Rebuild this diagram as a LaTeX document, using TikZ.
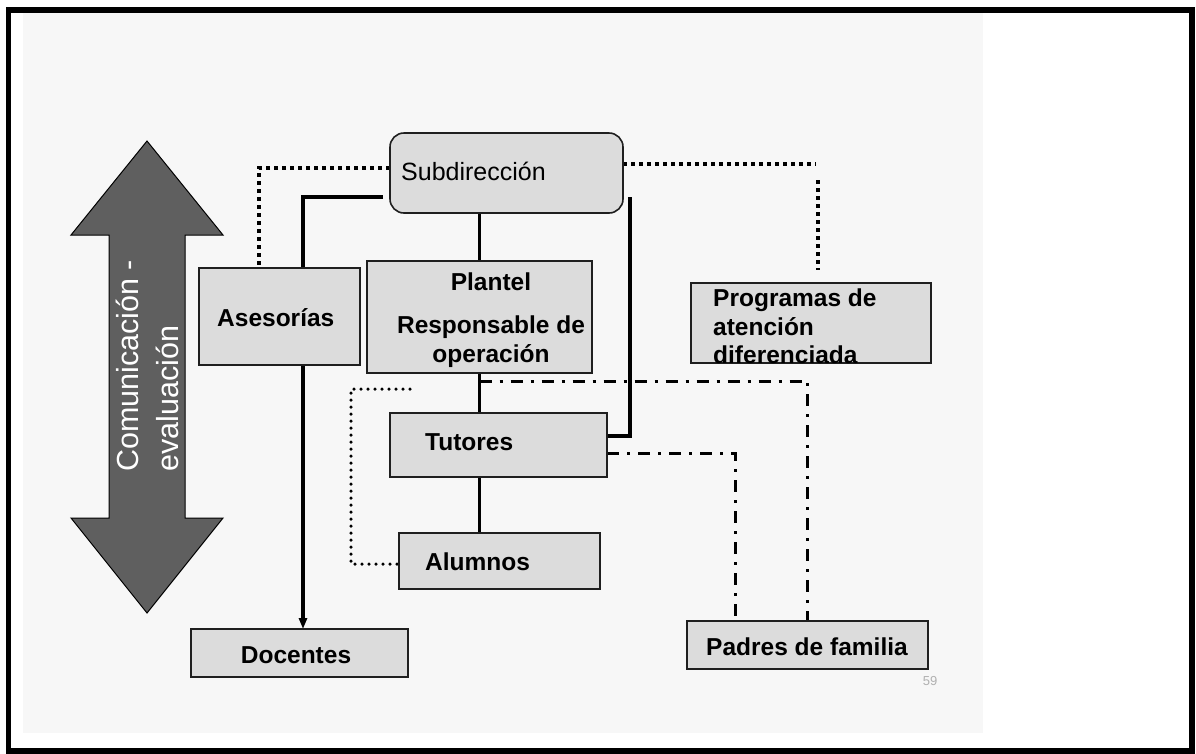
\documentclass[tikz,border=0pt]{standalone}
\usepackage{fontspec}
\setmainfont{Liberation Sans}
\usetikzlibrary{calc,arrows.meta}
\pgfdeclarelayer{bg}
\pgfdeclarelayer{lines}
\pgfsetlayers{bg,lines,main}
\definecolor{boxgray}{RGB}{220,220,220}
\definecolor{pagebg}{RGB}{247,247,247}
\definecolor{arrowgray}{RGB}{95,95,95}
\definecolor{numgray}{RGB}{176,176,176}
\tikzset{
  box/.style={draw=black!88, line width=1.6pt, fill=boxgray, inner sep=0pt, outer sep=0pt},
  boldtxt/.style={inner sep=0pt, font=\fontsize{24.5}{29}\selectfont\bfseries},
  regtxt/.style={inner sep=0pt, font=\fontsize{25}{29}\selectfont},
  arrtxt/.style={rotate=90, anchor=base west, text=white, inner sep=0pt, font=\fontsize{30.5}{36}\selectfont},
  solidln/.style={line width=3.2pt},
  thickln/.style={line width=3.8pt},
  dotsq/.style={line width=4pt, dash pattern=on 4pt off 4pt},
  dotrd/.style={line width=3.5pt, line cap=round, dash pattern=on 0pt off 7pt},
  dashdot/.style={line width=3pt, dash pattern=on 12pt off 8pt on 3pt off 8pt},
}
\begin{document}
\begin{tikzpicture}[x=1pt,y=-1pt]
\useasboundingbox (0,0) rectangle (1196,753);
\begin{pgfonlayer}{bg}
  \fill[white] (0,0) rectangle (1196,753);
  \fill[pagebg] (23,13) rectangle (983,733);
  \draw[line width=5.5pt] (8.5,10) rectangle (1192,751);
  % double arrow
  \draw[fill=arrowgray, line width=1pt]
    (147,141) -- (223,235) -- (185,235) -- (185,518) -- (223,518) -- (147,613)
    -- (71,518) -- (109,518) -- (109,235) -- (71,235) -- cycle;
\end{pgfonlayer}
\node[arrtxt] (arrT1) at (138,472) {Comunicación -};
\node[arrtxt] (arrT2) at (178,472) {evaluación};

% boxes
\node[box, rounded corners=14pt, minimum width=233pt, minimum height=80pt] (sub) at (506.5,173) {};
\node[box, minimum width=161pt, minimum height=97pt] (ase) at (279.5,316.5) {};
\node[box, minimum width=225pt, minimum height=112pt] (plan) at (479.5,317) {};
\node[box, minimum width=240pt, minimum height=80pt] (prog) at (811,323) {};
\node[box, minimum width=217pt, minimum height=64pt] (tut) at (498.5,445) {};
\node[box, minimum width=201pt, minimum height=56pt] (alu) at (499.5,561) {};
\node[box, minimum width=217pt, minimum height=48pt] (doc) at (299.5,653) {};
\node[box, minimum width=241pt, minimum height=48pt] (pad) at (807.5,645) {};

% texts
\node[regtxt, anchor=base west] (subT) at (401,180) {Subdirección};
\node[boldtxt, anchor=base west] (aseT) at (217,326) {Asesorías};
\node[boldtxt, anchor=base] (planT1) at (491,290) {Plantel};
\node[boldtxt, anchor=base] (planT2) at (491,333) {Responsable de};
\node[boldtxt, anchor=base] (planT3) at (491,362) {operación};
\node[boldtxt, anchor=base west] (progT1) at (713,306) {Programas de};
\node[boldtxt, anchor=base west] (progT2) at (713,335) {atención};
\node[boldtxt, anchor=base west] (progT3) at (713,363) {diferenciada};
\node[boldtxt, anchor=base west] (tutT) at (425,450) {Tutores};
\node[boldtxt, anchor=base west] (aluT) at (425,570) {Alumnos};
\node[boldtxt, anchor=base] (docT) at (296,663) {Docentes};
\node[boldtxt, anchor=base] (padT) at (807,655) {Padres de familia};
\node[inner sep=0pt, anchor=base, text=numgray, font=\fontsize{13}{15}\selectfont] (num) at (930,685) {59};

% connectors
\coordinate (c2) at (383,197);
\coordinate (c4) at (630,197);
\coordinate (c5a) at (816,164);
\coordinate (c5b) at (818,180);
\coordinate (c6) at (410,389);
\coordinate (c6b) at (351,389);
\begin{pgfonlayer}{lines}
  \draw[dotsq] ($(sub.west)+(0,-5)$) -| ($(ase.north)+(-20.5,0)$);
  \draw[solidln, -{Triangle[length=11pt,width=8pt]}] (c2) -| ($(doc.north)+(3.5,0)$);
  \draw[solidln] (plan.north |- sub.south) -- (plan.north);
  \draw[solidln] (plan.south) -- (plan.south |- tut.north);
  \draw[solidln] (plan.south |- tut.south) -- (plan.south |- alu.north);
  \draw[thickln] (c4) |- ($(tut.east)+(0,-9)$);
  \draw[dotsq] ($(sub.east)+(0,-9)$) -- (c5a) (c5b) -- ($(prog.north)+(7,-13)$);
  \draw[dotrd] (c6) -- (c6b) |- ($(alu.west)+(0,3)$);
  \draw[dashdot] ($(plan.south)+(0,8)$) -| (pad.north);
  \draw[dashdot] ($(tut.east)+(0,8)$) -| ($(pad.north)+(-72.5,0)$);
\end{pgfonlayer}
\end{tikzpicture}
\end{document}
